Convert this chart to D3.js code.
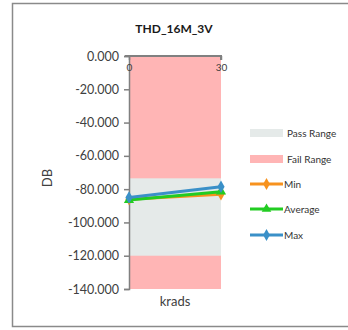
<!DOCTYPE html>
<html><head><meta charset="utf-8">
<script src="https://cdn.jsdelivr.net/npm/d3@7"></script>
<style>body{margin:0;background:#fff;}svg{display:block;font-family:Lato,"Open Sans",sans-serif;}</style>
</head><body><svg id="c" width="348" height="330"></svg>
<script>
const categories = ["0", "30"];
const minVals = [-86, -83];
const avgVals = [-86.5, -81.5];
const maxVals = [-85, -78.5];
const passRange = [-120, -73.5];
const yTicks = [0, -20, -40, -60, -80, -100, -120, -140];

const svg = d3.select("#c");
svg.append("rect").attr("x", 12.5).attr("y", 3.5).attr("width", 340).attr("height", 323)
  .attr("fill", "#fff").attr("stroke", "#8a8a8a").attr("stroke-width", 1.5);

const L = 129, R = 221, T = 56, B = 289;
const x = d3.scalePoint().domain(categories).range([L, R]);
const y = d3.scaleLinear().domain([-140, 0]).range([B, T]);

// Fail range full, pass range over it
svg.append("rect").attr("x", L).attr("y", y(0)).attr("width", R - L).attr("height", y(-140) - y(0)).attr("fill", "#ffb5b5");
svg.append("rect").attr("x", L).attr("y", y(passRange[1])).attr("width", R - L)
  .attr("height", y(passRange[0]) - y(passRange[1])).attr("fill", "#e5eae9");

// Y axis
const ya = svg.append("g").attr("transform", `translate(${L},0)`)
  .call(d3.axisLeft(y).tickValues(yTicks).tickFormat(d3.format(".3f")).tickSize(5).tickPadding(5));
ya.select(".domain").attr("stroke", "#808080").attr("stroke-width", 1.5);
ya.selectAll(".tick line").attr("stroke", "#808080").attr("stroke-width", 1.5);
ya.selectAll(".tick text").attr("font-size", 12.5).attr("fill", "#404040").attr("font-family", "Lato")
  .text(d => d3.format(".3f")(d).replace("−", "-"));

// X axis at top (value 0)
const xa = svg.append("g").attr("transform", `translate(0,${y(0)})`)
  .call(d3.axisBottom(x).tickSize(4).tickPadding(4));
xa.select(".domain").attr("d", `M${L - 4},0H${R}V4`).attr("stroke", "#808080").attr("stroke-width", 2);
xa.selectAll(".tick line").attr("stroke", "#808080").attr("stroke-width", 1.5);
xa.selectAll(".tick text").attr("font-size", 10).attr("fill", "#404040").attr("font-family", "Lato");

// Title
svg.append("text").attr("x", 174).attr("y", 33).attr("text-anchor", "middle")
  .attr("font-size", 12).attr("font-weight", "bold").attr("fill", "#1a1a1a").text("THD_16M_3V");
// Axis titles
svg.append("text").attr("x", 175).attr("y", 306).attr("text-anchor", "middle")
  .attr("font-size", 13).attr("fill", "#404040").text("krads");
svg.append("text").attr("transform", "translate(52,178) rotate(-90)").attr("text-anchor", "middle")
  .attr("font-size", 13).attr("fill", "#404040").text("DB");

const series = [
  {name: "Min", vals: minVals, color: "#f7921e", sym: d3.symbolDiamond},
  {name: "Average", vals: avgVals, color: "#22cc22", sym: d3.symbolTriangle},
  {name: "Max", vals: maxVals, color: "#3a90c8", sym: d3.symbolDiamond}
];
const line = d3.line().x((d, i) => x(categories[i])).y(d => y(d));
series.forEach(s => {
  svg.append("path").datum(s.vals).attr("d", line).attr("fill", "none")
    .attr("stroke", s.color).attr("stroke-width", 3);
  s.vals.forEach((v, i) => {
    svg.append("path").attr("d", d3.symbol(s.sym, 45)())
      .attr("transform", `translate(${x(categories[i])},${y(v)})`).attr("fill", s.color);
  });
});

// Legend
const lg = svg.append("g");
const lx = 250, lw = 33;
lg.append("rect").attr("x", lx).attr("y", 129).attr("width", lw).attr("height", 8).attr("fill", "#e5eae9");
lg.append("text").attr("x", 287).attr("y", 137).attr("font-size", 10).attr("fill", "#333").text("Pass Range");
lg.append("rect").attr("x", lx).attr("y", 155).attr("width", lw).attr("height", 8).attr("fill", "#ffb5b5");
lg.append("text").attr("x", 287).attr("y", 163).attr("font-size", 10).attr("fill", "#333").text("Fail Range");
const ly = [184, 209, 235];
series.forEach((s, i) => {
  lg.append("line").attr("x1", lx).attr("x2", lx + lw).attr("y1", ly[i]).attr("y2", ly[i])
    .attr("stroke", s.color).attr("stroke-width", 3);
  lg.append("path").attr("d", d3.symbol(s.sym, 40)()).attr("transform", `translate(${lx + lw / 2},${ly[i]})`).attr("fill", s.color);
  lg.append("text").attr("x", lx + lw + 1).attr("y", ly[i] + 4).attr("font-size", 10).attr("fill", "#333").text(s.name);
});
</script></body></html>
